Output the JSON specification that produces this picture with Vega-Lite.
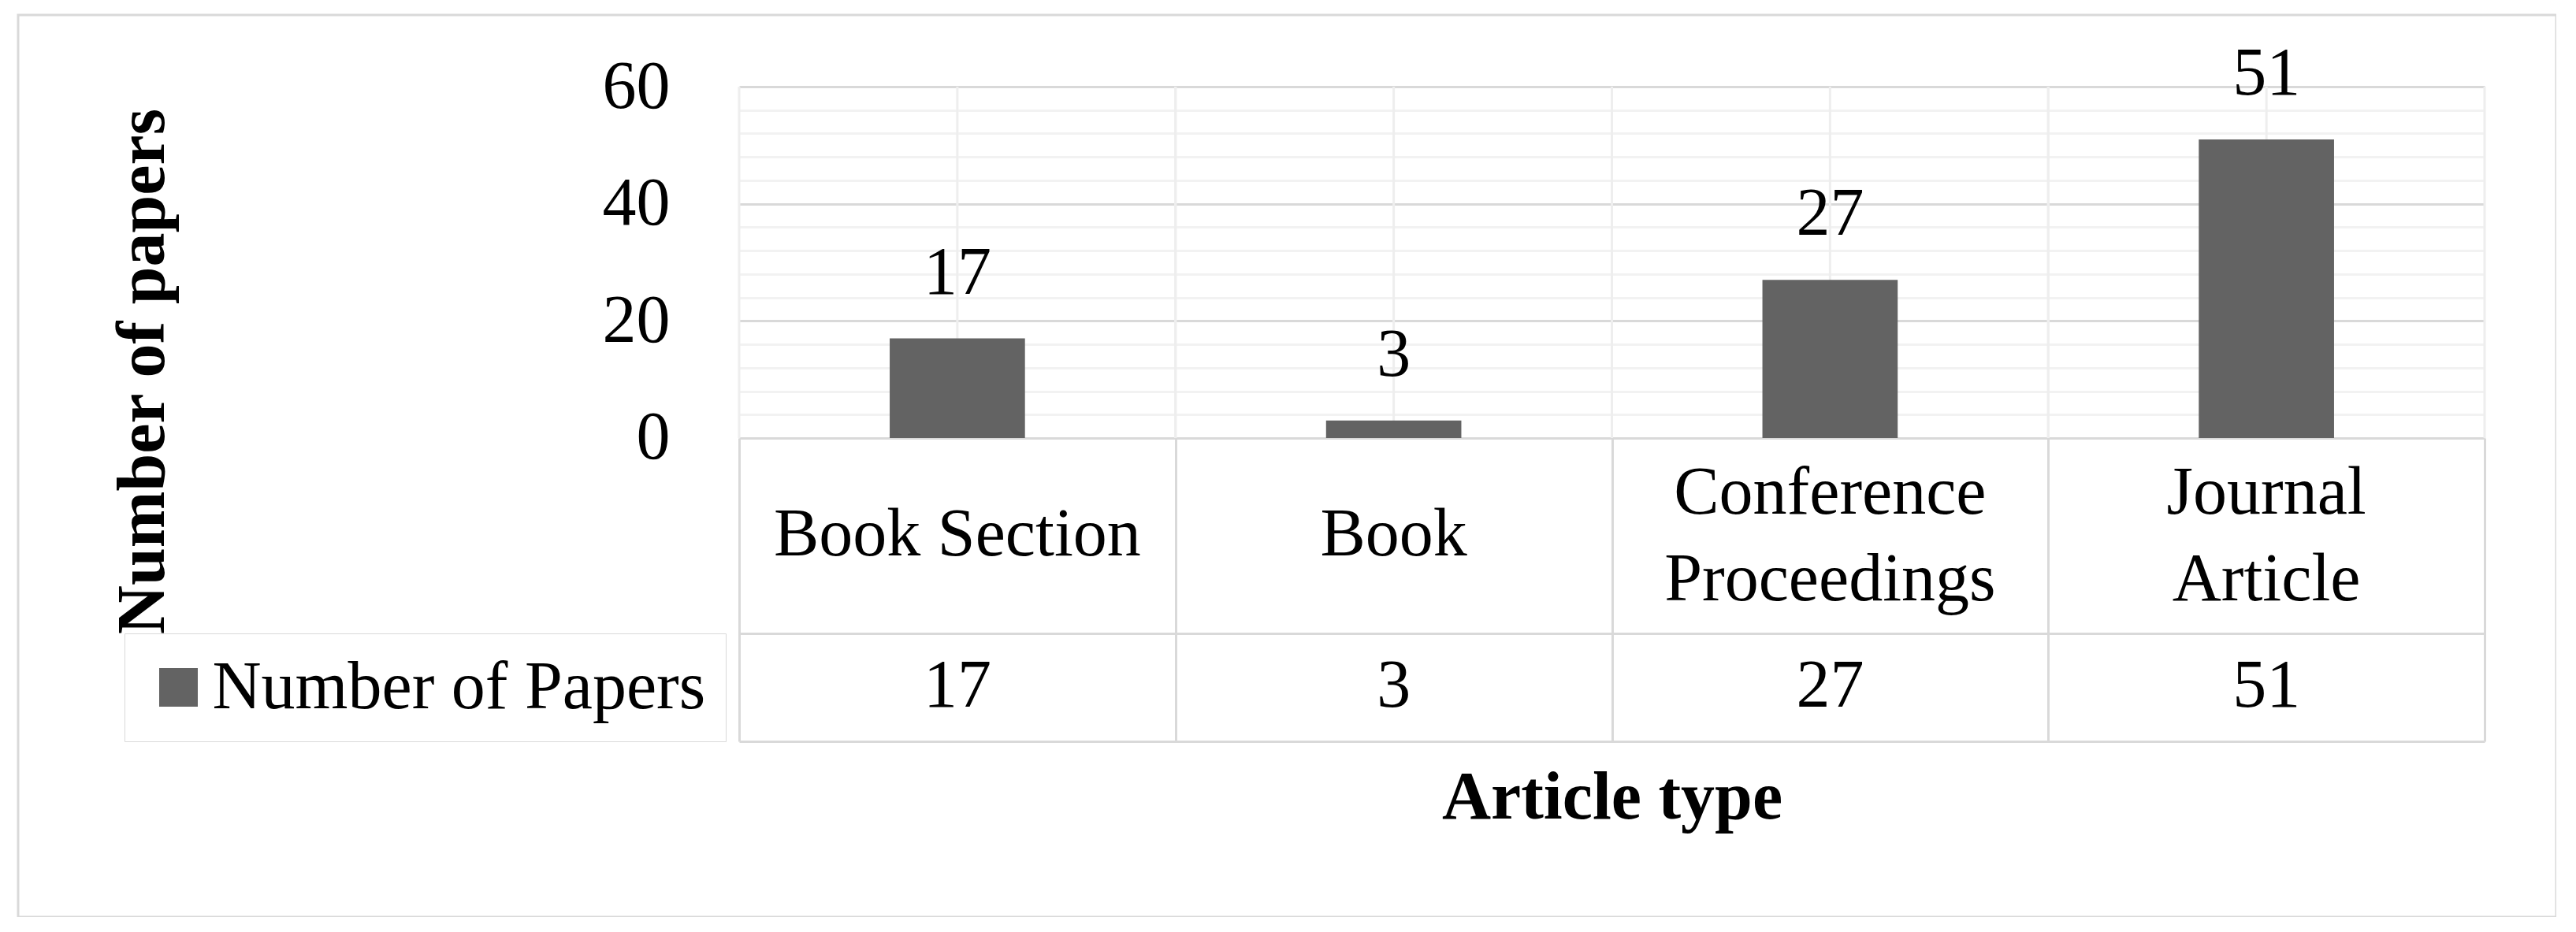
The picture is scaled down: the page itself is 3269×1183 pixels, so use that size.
{
  "$schema": "https://vega.github.io/schema/vega-lite/v6.json",
  "width": 3221,
  "height": 1145,
  "autosize": {"type": "none"},
  "padding": {"left": 23, "top": 19, "right": 0, "bottom": 0},
  "background": "white",
  "config": {
    "font": "Liberation Serif",
    "view": {"stroke": "#d9d9d9", "strokeWidth": 3},
    "text": {"font": "Liberation Serif", "fontSize": 86, "color": "#000000"}
  },
  "data": {
    "values": [
      {"type": "Book Section", "count": 17},
      {"type": "Book", "count": 3},
      {"type": "Conference Proceedings", "count": 27},
      {"type": "Journal Article", "count": 51}
    ]
  },
  "layer": [
    {
      "mark": {"type": "rule", "color": "#eeeeee", "strokeWidth": 3},
      "encoding": {
        "x": {"field": "type", "type": "nominal", "sort": null},
        "y": {"datum": 0, "type": "quantitative"},
        "y2": {"datum": 60}
      }
    },
    {
      "mark": {"type": "rule", "color": "#eeeeee", "strokeWidth": 3},
      "encoding": {
        "x": {"field": "type", "type": "nominal", "sort": null, "bandPosition": 0},
        "y": {"datum": 0, "type": "quantitative"},
        "y2": {"datum": 60}
      }
    },
    {
      "mark": {"type": "rule", "color": "#eeeeee", "strokeWidth": 3},
      "encoding": {
        "x": {"field": "type", "type": "nominal", "sort": null, "bandPosition": 1},
        "y": {"datum": 0, "type": "quantitative"},
        "y2": {"datum": 60}
      }
    },
    {
      "mark": {"type": "bar", "width": {"band": 0.31}},
      "encoding": {
        "x": {
          "field": "type",
          "type": "nominal",
          "sort": null,
          "scale": {
            "domain": ["Book Section", "Book", "Conference Proceedings", "Journal Article"],
            "range": [915, 3130],
            "paddingInner": 0,
            "paddingOuter": 0
          },
          "axis": {
            "orient": "bottom",
            "offset": -608,
            "domain": false,
            "grid": false,
            "tickBand": "extent",
            "ticks": true,
            "tickSize": 385,
            "tickColor": "#d9d9d9",
            "tickWidth": 3,
            "labels": false,
            "title": "Article type",
            "titleFont": "Liberation Serif",
            "titleFontSize": 86,
            "titleFontWeight": "bold",
            "titleColor": "#000000",
            "titleY": 482,
            "titleBaseline": "alphabetic"
          }
        },
        "y": {
          "field": "count",
          "type": "quantitative",
          "scale": {"domain": [-51.8, 60], "range": [922, 91], "nice": false, "zero": false},
          "axis": {
            "orient": "left",
            "offset": -915,
            "values": [-51.8, -33.4, 0, 4, 8, 12, 16, 20, 24, 28, 32, 36, 40, 44, 48, 52, 56, 60],
            "domain": false,
            "ticks": false,
            "grid": true,
            "gridWidth": 3,
            "gridColor": {"condition": {"test": "datum.value < 0 || datum.value % 20 === 0", "value": "#d9d9d9"}, "value": "#f2f2f2"},
            "labelExpr": "datum.value >= 0 && datum.value % 20 === 0 ? datum.label : ''",
            "labelFont": "Liberation Serif",
            "labelFontSize": 86,
            "labelColor": "#000000",
            "labelPadding": 88,
            "labelOverlap": false,
            "labelLimit": 1000,
            "title": "Number of papers",
            "titleFont": "Liberation Serif",
            "titleFontSize": 86,
            "titleFontWeight": "bold",
            "titleColor": "#000000",
            "titleX": -731,
            "titleY": 452,
            "titleAngle": -90,
            "titleBaseline": "alphabetic",
            "titleAlign": "center"
          }
        },
        "color": {
          "datum": "Number of Papers",
          "type": "nominal",
          "scale": {"range": ["#636363"]},
          "legend": {
            "orient": "none",
            "legendX": 135,
            "legendY": 785,
            "title": null,
            "symbolType": "square",
            "symbolSize": 2400,
            "symbolStrokeWidth": 0,
            "labelFont": "Liberation Serif",
            "labelFontSize": 86,
            "labelColor": "#000000",
            "labelOffset": 0,
            "labelLimit": 1000,
            "padding": 25.5,
            "strokeColor": "#d9d9d9",
            "labelExpr": "datum.label + '\u00a0\u00a0\u00a0\u00a0'"
          }
        }
      }
    },
    {
      "mark": {"type": "text", "baseline": "alphabetic", "dy": -57},
      "encoding": {
        "x": {"field": "type", "type": "nominal", "sort": null},
        "y": {"field": "count", "type": "quantitative"},
        "text": {"field": "count", "type": "quantitative"}
      }
    },
    {
      "mark": {"type": "text", "baseline": "middle"},
      "encoding": {
        "x": {"field": "type", "type": "nominal", "sort": null},
        "y": {"datum": -42.4, "type": "quantitative"},
        "text": {"field": "count", "type": "quantitative"}
      }
    },
    {
      "transform": [{"filter": "length(datum.type) <= 12"}],
      "mark": {"type": "text", "baseline": "middle"},
      "encoding": {
        "x": {"field": "type", "type": "nominal", "sort": null},
        "y": {"datum": -16.6, "type": "quantitative"},
        "text": {"field": "type", "type": "nominal"}
      }
    },
    {
      "transform": [{"filter": "length(datum.type) > 12"}],
      "mark": {"type": "text", "baseline": "middle", "lineBreak": " ", "lineHeight": 110},
      "encoding": {
        "x": {"field": "type", "type": "nominal", "sort": null},
        "y": {"datum": -9.4, "type": "quantitative"},
        "text": {"field": "type", "type": "nominal"}
      }
    }
  ]
}
